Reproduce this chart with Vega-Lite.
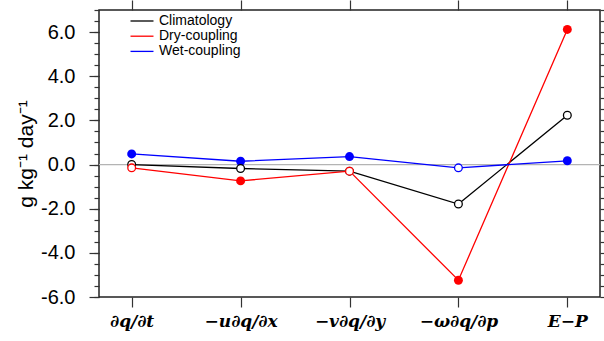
{
  "$schema": "https://vega.github.io/schema/vega-lite/v6.json",
  "autosize": "none",
  "width": 501,
  "height": 287,
  "padding": {"left": 99, "top": 10, "right": 4, "bottom": 44},
  "background": "white",
  "config": {
    "view": {"stroke": "#222", "strokeWidth": 1.5},
    "axis": {"grid": false, "domain": false, "tickColor": "#333", "tickWidth": 1.2}
  },
  "datasets": {
    "main": [
      {"term": "∂q/∂t", "series": "Climatology", "value": 0.0, "filled": false},
      {"term": "−u∂q/∂x", "series": "Climatology", "value": -0.18, "filled": false},
      {"term": "−v∂q/∂y", "series": "Climatology", "value": -0.3, "filled": false},
      {"term": "−ω∂q/∂p", "series": "Climatology", "value": -1.79, "filled": false},
      {"term": "E−P", "series": "Climatology", "value": 2.23, "filled": false},
      {"term": "∂q/∂t", "series": "Dry-coupling", "value": -0.15, "filled": false},
      {"term": "−u∂q/∂x", "series": "Dry-coupling", "value": -0.74, "filled": true},
      {"term": "−v∂q/∂y", "series": "Dry-coupling", "value": -0.3, "filled": false},
      {"term": "−ω∂q/∂p", "series": "Dry-coupling", "value": -5.24, "filled": true},
      {"term": "E−P", "series": "Dry-coupling", "value": 6.12, "filled": true},
      {"term": "∂q/∂t", "series": "Wet-coupling", "value": 0.48, "filled": true},
      {"term": "−u∂q/∂x", "series": "Wet-coupling", "value": 0.15, "filled": true},
      {"term": "−v∂q/∂y", "series": "Wet-coupling", "value": 0.36, "filled": true},
      {"term": "−ω∂q/∂p", "series": "Wet-coupling", "value": -0.15, "filled": false},
      {"term": "E−P", "series": "Wet-coupling", "value": 0.17, "filled": true}
    ],
    "zero": [{"zero": 0}]
  },
  "layer": [
    {
      "data": {"name": "zero"},
      "mark": {"type": "rule", "color": "#b4b4b4", "strokeWidth": 1.2},
      "encoding": {
        "y": {
          "field": "zero", "type": "quantitative",
          "scale": {"domain": [-6, 7], "nice": false, "zero": false},
          "axis": {
            "orient": "left",
            "values": [-6, -4, -2, 0, 2, 4, 6],
            "format": ".1f",
            "labelExpr": "replace(datum.label, '−', '-')",
            "tickSize": 10,
            "labelFont": "Liberation Sans",
            "labelFontSize": 20,
            "labelColor": "#000",
            "labelPadding": 14,
            "title": "g kg⁻¹ day⁻¹",
            "titleFont": "Liberation Sans",
            "titleFontSize": 21,
            "titleFontWeight": "normal",
            "titleColor": "#000",
            "titlePadding": 4
          }
        }
      }
    },
    {
      "data": {"name": "main"},
      "mark": {"type": "line", "strokeWidth": 1.3},
      "encoding": {
        "x": {
          "field": "term", "type": "ordinal",
          "scale": {"type": "point", "padding": 0.3, "domain": ["∂q/∂t", "−u∂q/∂x", "−v∂q/∂y", "−ω∂q/∂p", "E−P"]},
          "axis": {
            "orient": "bottom",
            "tickSize": 10,
            "labelAngle": 0,
            "labelFont": "DejaVu Serif",
            "labelFontSize": 17,
            "labelFontStyle": "italic",
            "labelFontWeight": "bold",
            "labelColor": "#000",
            "labelPadding": 6,
            "title": null
          }
        },
        "y": {
          "field": "value", "type": "quantitative",
          "axis": {
            "orient": "left",
            "values": [-6, -5.5, -5, -4.5, -4, -3.5, -3, -2.5, -2, -1.5, -1, -0.5, 0, 0.5, 1, 1.5, 2, 2.5, 3, 3.5, 4, 4.5, 5, 5.5, 6, 6.5, 7],
            "tickSize": 5,
            "labels": false,
            "title": null
          }
        },
        "color": {
          "field": "series", "type": "nominal",
          "scale": {"domain": ["Climatology", "Dry-coupling", "Wet-coupling"], "range": ["#000000", "#ff0000", "#0000ff"]},
          "legend": {
            "orient": "none",
            "legendX": 36,
            "legendY": 4,
            "title": null,
            "symbolType": "M-2,0H2",
            "symbolSize": 132,
            "symbolStrokeWidth": 1.3,
            "labelFont": "Liberation Sans",
            "labelFontSize": 14,
            "labelColor": "#000",
            "labelOffset": 10,
            "rowPadding": 1.2,
            "padding": 0
          }
        }
      }
    },
    {
      "data": {"name": "main"},
      "transform": [{"filter": "datum.filled"}],
      "mark": {"type": "point", "filled": true, "size": 80, "opacity": 1},
      "encoding": {
        "x": {
          "field": "term", "type": "ordinal",
          "axis": {"orient": "top", "tickSize": 10, "labels": false, "title": null}
        },
        "y": {
          "field": "value", "type": "quantitative",
          "axis": {
            "orient": "right",
            "values": [-6, -5.5, -5, -4.5, -4, -3.5, -3, -2.5, -2, -1.5, -1, -0.5, 0, 0.5, 1, 1.5, 2, 2.5, 3, 3.5, 4, 4.5, 5, 5.5, 6, 6.5, 7],
            "tickSize": 5,
            "labels": false,
            "title": null
          }
        },
        "color": {"field": "series", "type": "nominal", "legend": null}
      }
    },
    {
      "data": {"name": "main"},
      "transform": [{"filter": "!datum.filled"}],
      "mark": {"type": "point", "filled": false, "fill": "white", "size": 60, "strokeWidth": 1.3, "opacity": 1},
      "encoding": {
        "x": {"field": "term", "type": "ordinal", "axis": null},
        "y": {"field": "value", "type": "quantitative", "axis": null},
        "color": {"field": "series", "type": "nominal", "legend": null}
      }
    }
  ],
  "resolve": {"axis": {"x": "independent", "y": "independent"}, "legend": {"color": "independent"}}
}
